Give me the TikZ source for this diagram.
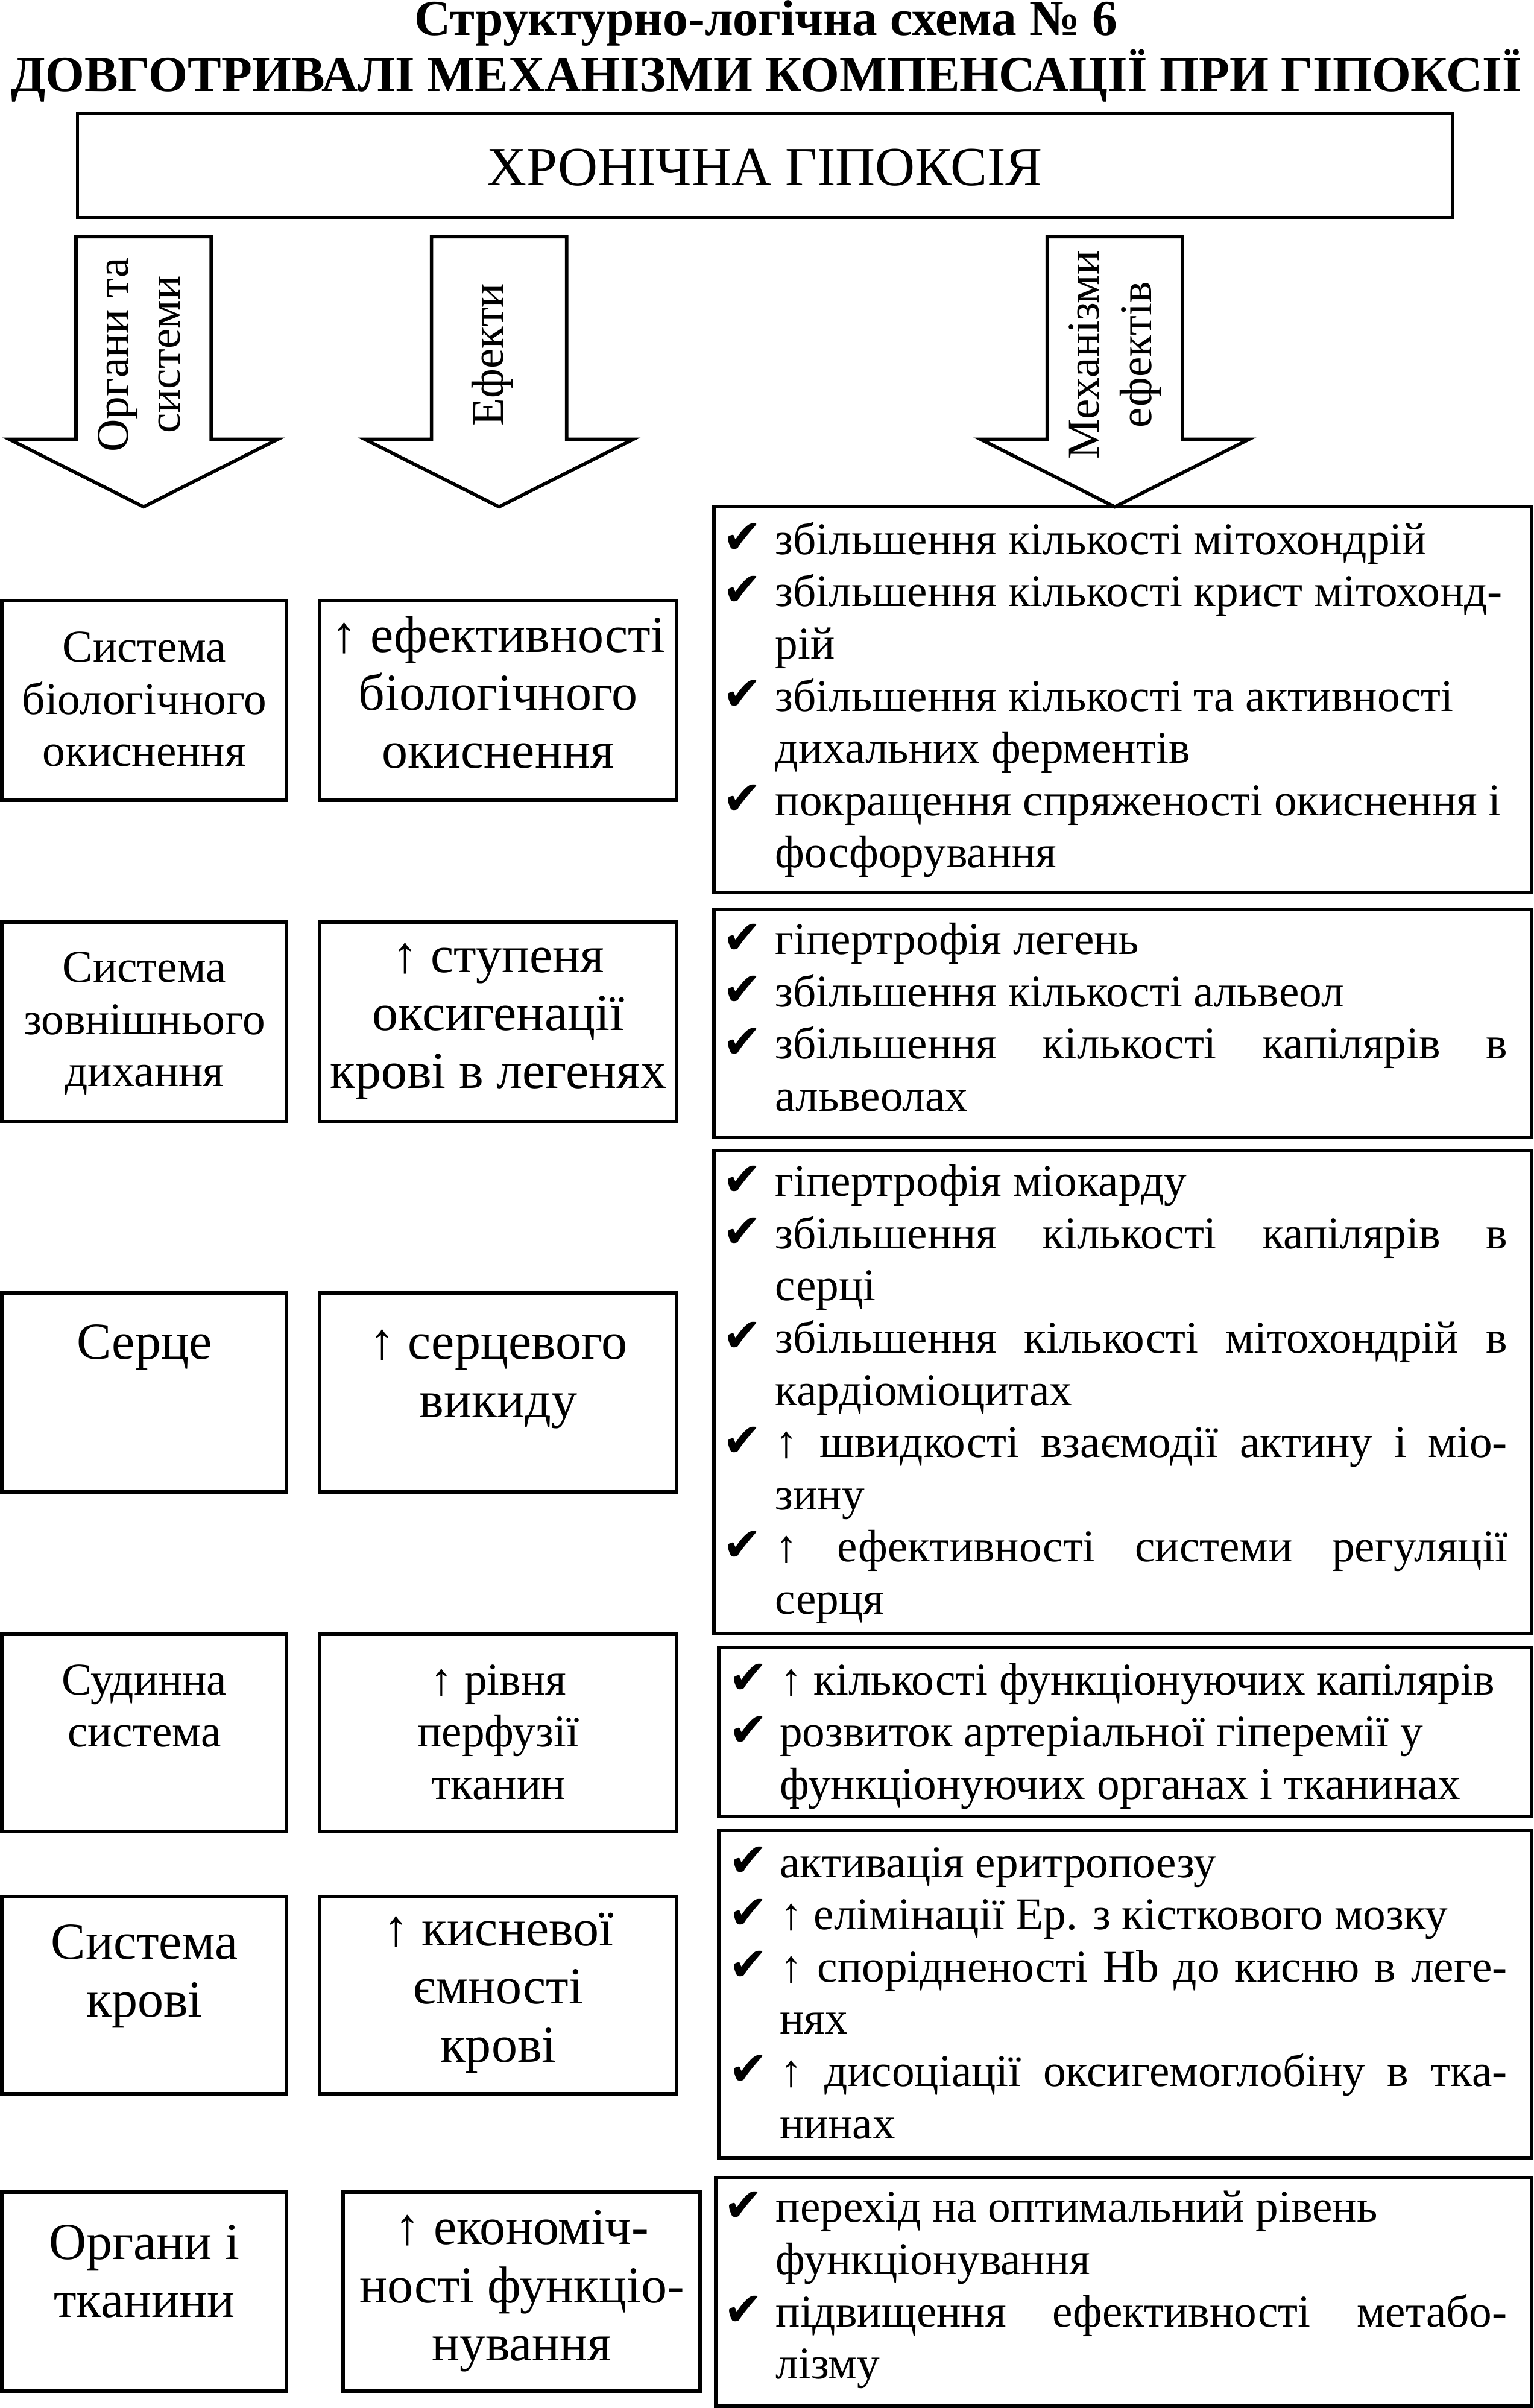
\documentclass[tikz,border=0pt]{standalone}
\usepackage{fontspec}
\setmainfont{Liberation Serif}
\newfontfamily\ckf{DejaVu Sans}
\newdimen\U \U=0.4735pt
\newdimen\ci \newdimen\tw
\newcommand\fourteen{\fontsize{14}{16.1}\selectfont}
\newcommand\sixteen{\fontsize{16}{17.9}\selectfont}
\newcommand\ctr[2]{{#1\begin{tabular}[t]{@{}c@{}}#2\end{tabular}}}
\newcommand\CK{\hbox to\ci{\raisebox{0.3pt}{\ckf\fontsize{14.5}{14.5}\selectfont ✔}\hss}}
\newcommand\NC{\hbox to\ci{\hss}}
\newcommand\LR[2]{\hbox{#1#2}}
\newcommand\LJ[2]{\hbox{#1\hbox to\tw{#2}}}
\newcommand\mech[3]{\vtop{\fourteen\ci=#1\U \tw=#2\U #3}}
\newcommand\bxn[5]{\node[bx, minimum width={(#4-(#2))*0.4735pt}, minimum height={(#5-(#3))*0.4735pt}] (#1) at ({(#2+#4)/2},{(#3+#5)/2}) {};}
\newcommand\barrow[2]{\draw[blockarrow] (#2-44,154) -- (#2+44,154) -- (#2+44,286) -- (#2+87.5,286) -- (#2,330) -- (#2-87.5,286) -- (#2-44,286) -- cycle; \coordinate (#1) at (#2,330);}
\tikzset{
  bx/.style={draw, rectangle, line width=1.05pt, inner sep=0pt, outer sep=0pt},
  txt/.style={inner sep=0pt, outer sep=0pt},
  blockarrow/.style={draw, line width=1.05pt, line join=miter},
  ttl/.style={txt, anchor=base, font=\fontsize{15.5}{18}\selectfont\bfseries}
}
\begin{document}
\begin{tikzpicture}[x=0.4735pt, y=-0.4735pt]
\path[fill=white, use as bounding box] (0,0) rectangle (999,1568);

% title
\node[ttl] (title1) at (499,23) {Структурно-логічна схема № 6};
\node[ttl] (title2) at (499,59.6) {ДОВГОТРИВАЛІ МЕХАНІЗМИ КОМПЕНСАЦІЇ ПРИ ГІПОКСІЇ};

\bxn{hyp}{50.5}{74}{946}{141.5}
\node[txt, anchor=base, font=\fontsize{17}{19}\selectfont] (hyptext) at (498,120.6) {ХРОНІЧНА ГІПОКСІЯ};

% block arrows
\barrow{arr1}{93.5}
\barrow{arr2}{325}
\barrow{arr3}{726}
\node[txt, rotate=90] (lab1) at (93.5,231) {\ctr{\fourteen}{Органи та\\системи}};
\node[txt, rotate=90] (lab2) at (321,231) {\ctr{\fourteen}{Ефекти}};
\node[txt, rotate=90] (lab3) at (726,231) {\ctr{\fourteen}{Механізми\\ефектів}};

% left column
\bxn{o1}{1.2}{391}{186.5}{521}
\bxn{o2}{1.2}{600.5}{186.5}{730.5}
\bxn{o3}{1.2}{842}{186.5}{971.5}
\bxn{o4}{1.2}{1064.2}{186.5}{1192.5}
\bxn{o5}{1.2}{1235}{186.5}{1363.5}
\bxn{o6}{1.2}{1427.4}{186.5}{1557}
\node[txt, anchor=base] (o1t) at (94,431) {\ctr{\fourteen}{Система\\біологічного\\окиснення}};
\node[txt, anchor=base] (o2t) at (94,639.5) {\ctr{\fourteen}{Система\\зовнішнього\\дихання}};
\node[txt, anchor=base] (o3t) at (94,885) {\ctr{\sixteen}{Серце}};
\node[txt, anchor=base] (o4t) at (94,1103.5) {\ctr{\fourteen}{Судинна\\система}};
\node[txt, anchor=base] (o5t) at (94,1275.5) {\ctr{\sixteen}{Система\\крові}};
\node[txt, anchor=base] (o6t) at (94,1471) {\ctr{\sixteen}{Органи і\\тканини}};

% middle column
\bxn{e1}{208.3}{391}{440.8}{521}
\bxn{e2}{208.3}{600.5}{440.8}{730.5}
\bxn{e3}{208.3}{842}{440.8}{971.5}
\bxn{e4}{208.3}{1064.2}{440.8}{1192.5}
\bxn{e5}{208.3}{1235}{440.8}{1363.5}
\bxn{e6}{223.5}{1427.4}{456}{1557}
\node[txt, anchor=base] (e1t) at (324.5,424.5) {\ctr{\sixteen}{↑ ефективності\\біологічного\\окиснення}};
\node[txt, anchor=base] (e2t) at (324.5,633) {\ctr{\sixteen}{↑ ступеня\\оксигенації\\крові в легенях}};
\node[txt, anchor=base] (e3t) at (324.5,885) {\ctr{\sixteen}{↑ серцевого\\викиду}};
\node[txt, anchor=base] (e4t) at (324.5,1103.5) {\ctr{\fourteen}{↑ рівня\\перфузії\\тканин}};
\node[txt, anchor=base] (e5t) at (324.5,1267) {\ctr{\sixteen}{↑ кисневої\\ємності\\крові}};
\node[txt, anchor=base] (e6t) at (339.8,1461.5) {\ctr{\sixteen}{↑ економіч-\\ності функціо-\\нування}};

% right column
\bxn{m1}{465}{330}{997.5}{581}
\bxn{m2}{465}{592}{997.5}{740.5}
\bxn{m3}{465}{749}{997.5}{1064}
\bxn{m4}{468}{1073}{997.5}{1183}
\bxn{m5}{468}{1192}{997.5}{1405}
\bxn{m6}{466}{1418}{997.5}{1566.7}

\node[txt, anchor=base west] (m1t) at (470.5,361) {\mech{34.4}{476.8}{%
  \LR\CK{збільшення кількості мітохондрій}
  \LR\CK{збільшення кількості крист мітохонд-}
  \LR\NC{рій}
  \LR\CK{збільшення кількості та активності}
  \LR\NC{дихальних ферментів}
  \LR\CK{покращення спряженості окиснення і}
  \LR\NC{фосфорування}}};

\node[txt, anchor=base west] (m2t) at (470.5,621.5) {\mech{34.4}{476.8}{%
  \LR\CK{гіпертрофія легень}
  \LR\CK{збільшення кількості альвеол}
  \LJ\CK{збільшення кількості капілярів в}
  \LR\NC{альвеолах}}};

\node[txt, anchor=base west] (m3t) at (470.5,779) {\mech{34.4}{476.8}{%
  \LR\CK{гіпертрофія міокарду}
  \LJ\CK{збільшення кількості капілярів в}
  \LR\NC{серці}
  \LJ\CK{збільшення кількості мітохондрій в}
  \LR\NC{кардіоміоцитах}
  \LJ\CK{↑ швидкості взаємодії актину і міо-}
  \LR\NC{зину}
  \LJ\CK{↑ ефективності системи регуляції}
  \LR\NC{серця}}};

\node[txt, anchor=base west] (m4t) at (474.7,1103.5) {\mech{33.1}{473.7}{%
  \LR\CK{↑ кількості функціонуючих капілярів}
  \LR\CK{розвиток артеріальної гіперемії у}
  \LR\NC{функціонуючих органах і тканинах}}};

\node[txt, anchor=base west] (m5t) at (474.7,1222.5) {\mech{33.1}{473.7}{%
  \LR\CK{активація еритропоезу}
  \LR\CK{↑ елімінації Ер. з кісткового мозку}
  \LJ\CK{↑ спорідненості Hb до кисню в леге-}
  \LR\NC{нях}
  \LJ\CK{↑ дисоціації оксигемоглобіну в тка-}
  \LR\NC{нинах}}};

\node[txt, anchor=base west] (m6t) at (471.5,1447) {\mech{33.8}{476.2}{%
  \LR\CK{перехід на оптимальний рівень}
  \LR\NC{функціонування}
  \LJ\CK{підвищення ефективності метабо-}
  \LR\NC{лізму}}};
\end{tikzpicture}
\end{document}
